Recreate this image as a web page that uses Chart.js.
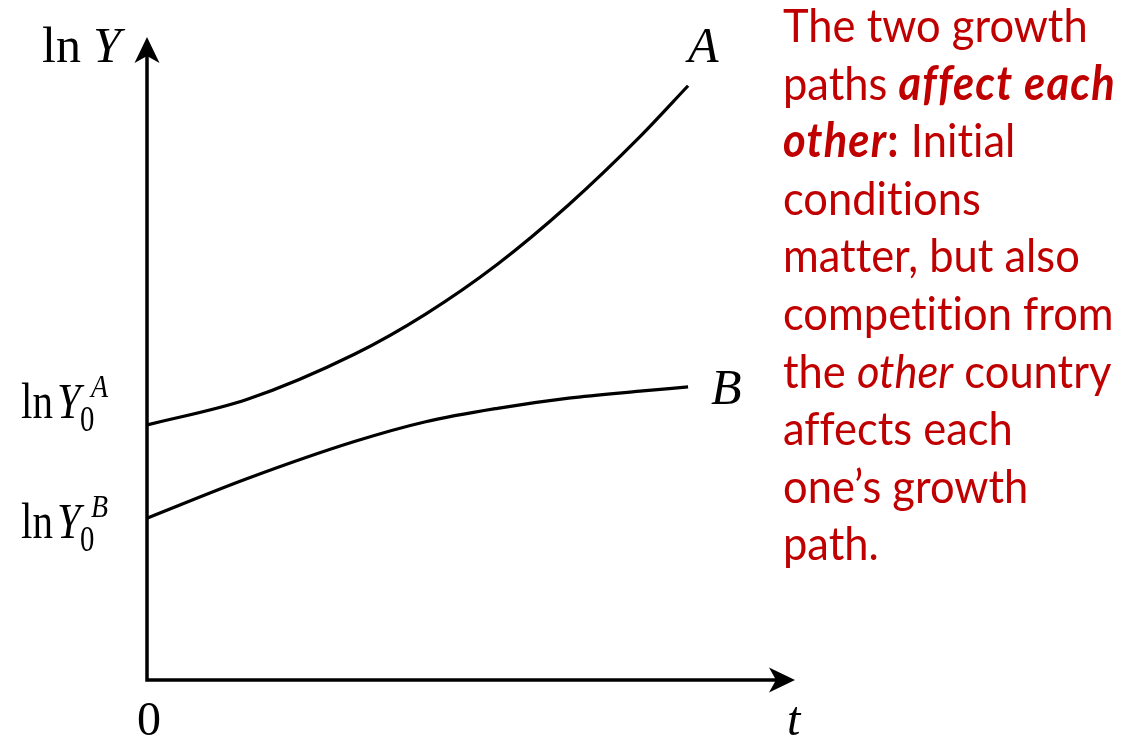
<!DOCTYPE html>
<html>
<head>
<meta charset="utf-8">
<title>Growth paths</title>
<script src="https://cdn.jsdelivr.net/npm/chart.js@4.4.1/dist/chart.umd.min.js"></script>
<style>
  html, body { margin: 0; padding: 0; background: #fff; }
  #wrap { position: relative; width: 1127px; height: 737px; overflow: hidden; }
  #growth { position: absolute; left: 0; top: 0; }
  #note {
    position: absolute; left: 783px; top: -4px;
    color: #c00000; font-family: Lato, "Open Sans", sans-serif;
    font-size: 47px; line-height: 57.6px; white-space: nowrap;
    font-variant-ligatures: none;
    transform: scaleX(0.925); transform-origin: 0 0;
  }
  #note b { letter-spacing: 1.3px; }
</style>
</head>
<body>
<div id="wrap">
  <canvas id="growth" width="1127" height="737"></canvas>
  <div id="note">The two growth<br>paths <b><i>affect each</i></b><br><b><i>other</i>:</b> Initial<br>conditions<br>matter, but also<br>competition from<br>the <i>other</i> country<br>affects each<br>one’s growth<br>path.</div>
</div>
<script>
// time axis and the two log-output paths
const tValues = [0, 1.86, 3.84, 5.16, 6.49, 7.81, 9.13, 10.02];
const lnYA = [4.76, 5.24, 6.08, 6.83, 7.76, 8.87, 10.14, 11.09];
const lnYB = [3.02, 3.76, 4.45, 4.82, 5.07, 5.26, 5.39, 5.47];
const seriesNames = ["A", "B"];
const xMax = 12;
const yMax = 12;

const toPoints = (ys) => tValues.map((t, i) => ({ x: t, y: ys[i] }));

const serif = '"Liberation Serif", "Times New Roman", serif';

// text helper, sx squeezes the glyphs horizontally
function label(ctx, str, x, y, size, italic, sx = 1) {
  ctx.save();
  ctx.translate(x, y);
  ctx.scale(sx, 1);
  ctx.font = (italic ? "italic " : "") + size + "px " + serif;
  ctx.fillText(str, 0, 0);
  ctx.restore();
}

function arrowhead(ctx, tx, ty, dx, dy) {
  const len = 26, half = 12.5, notch = 19;
  const px = -dy, py = dx;
  ctx.beginPath();
  ctx.moveTo(tx, ty);
  ctx.lineTo(tx - dx * len + px * half, ty - dy * len + py * half);
  ctx.lineTo(tx - dx * notch, ty - dy * notch);
  ctx.lineTo(tx - dx * len - px * half, ty - dy * len - py * half);
  ctx.closePath();
  ctx.fill();
}

const axesPlugin = {
  id: "axesPlugin",
  afterDatasetsDraw(chart) {
    const { ctx, scales: { x, y } } = chart;
    const x0 = x.getPixelForValue(0);
    const y0 = y.getPixelForValue(0);
    const xEnd = x.getPixelForValue(xMax);
    const yEnd = y.getPixelForValue(yMax);

    ctx.save();
    ctx.strokeStyle = "#000";
    ctx.fillStyle = "#000";
    ctx.lineWidth = 3.5;
    ctx.beginPath();
    ctx.moveTo(x0, y0 + 1.75);
    ctx.lineTo(x0, yEnd + 15);
    ctx.moveTo(x0 - 1.75, y0);
    ctx.lineTo(xEnd - 15, y0);
    ctx.stroke();
    arrowhead(ctx, x0, yEnd, 0, -1);
    arrowhead(ctx, xEnd, y0, 1, 0);

    ctx.textBaseline = "alphabetic";
    ctx.textAlign = "left";

    // axis titles and origin
    label(ctx, "ln", x0 - 105, yEnd + 25, 50, false);
    label(ctx, "Y", x0 - 54, yEnd + 25, 50, true);
    label(ctx, "0", x0 - 10, y0 + 55, 48, false);
    label(ctx, "t", x0 + 640, y0 + 55, 48, true);

    // starting levels on the vertical axis
    const yA0 = y.getPixelForValue(lnYA[0]);
    const yB0 = y.getPixelForValue(lnYB[0]);
    [[yA0 - 7, "A"], [yB0 + 20, "B"]].forEach(([base, s]) => {
      label(ctx, "ln", x0 - 126, base, 50, false, 0.82);
      label(ctx, "Y", x0 - 90, base, 50, true, 0.85);
      label(ctx, "0", x0 - 67, base + 13, 36, false, 0.8);
      label(ctx, s, x0 - 56, base - 21, 31, true, 0.9);
    });

    // path names at the line ends
    const last = tValues.length - 1;
    const xa = x.getPixelForValue(tValues[last]);
    label(ctx, seriesNames[0], xa, y.getPixelForValue(lnYA[last]) - 24, 50, true);
    label(ctx, seriesNames[1], xa + 23, y.getPixelForValue(lnYB[last]) + 17, 50, true);
    ctx.restore();
  }
};

new Chart(document.getElementById("growth"), {
  type: "line",
  data: {
    datasets: [
      { label: seriesNames[0], data: toPoints(lnYA) },
      { label: seriesNames[1], data: toPoints(lnYB) }
    ]
  },
  options: {
    responsive: false,
    animation: false,
    events: [],
    layout: { padding: { left: 147, right: 332, top: 37, bottom: 57 } },
    elements: {
      line: { borderColor: "#000", borderWidth: 3.2, cubicInterpolationMode: "monotone", fill: false },
      point: { radius: 0 }
    },
    scales: {
      x: { type: "linear", min: 0, max: xMax, display: false },
      y: { type: "linear", min: 0, max: yMax, display: false }
    },
    plugins: { legend: { display: false }, tooltip: { enabled: false } }
  },
  plugins: [axesPlugin]
});
</script>
</body>
</html>
